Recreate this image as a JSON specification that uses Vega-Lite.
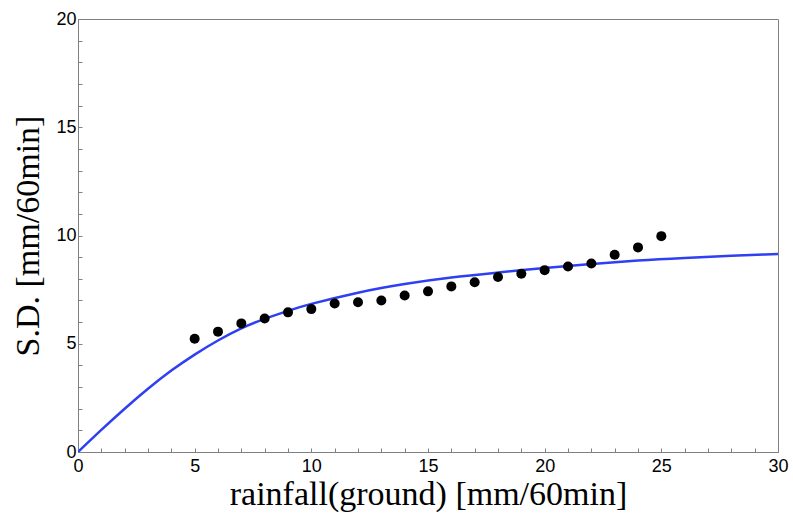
{
  "$schema": "https://vega.github.io/schema/vega-lite/v6.json",
  "autosize": "none",
  "padding": {"left": 78, "top": 19, "right": 15, "bottom": 71},
  "width": 700,
  "height": 433,
  "background": "white",
  "config": {
    "view": {"stroke": "#808080", "strokeWidth": 1},
    "axis": {
      "domainColor": "#808080",
      "tickColor": "#808080",
      "grid": false,
      "labelFont": "Liberation Sans",
      "labelFontSize": 18,
      "labelColor": "black",
      "titleFont": "Liberation Serif",
      "titleFontWeight": "normal",
      "titleFontSize": 34,
      "titleColor": "black",
      "tickSize": -4,
      "labelOverlap": false
    }
  },
  "datasets": {
    "obs": [
      {"x": 5, "y": 5.23}, {"x": 6, "y": 5.56}, {"x": 7, "y": 5.94}, {"x": 8, "y": 6.17},
      {"x": 9, "y": 6.45}, {"x": 10, "y": 6.6}, {"x": 11, "y": 6.86}, {"x": 12, "y": 6.92},
      {"x": 13, "y": 7.0}, {"x": 14, "y": 7.23}, {"x": 15, "y": 7.42}, {"x": 16, "y": 7.65},
      {"x": 17, "y": 7.84}, {"x": 18, "y": 8.08}, {"x": 19, "y": 8.23}, {"x": 20, "y": 8.4},
      {"x": 21, "y": 8.57}, {"x": 22, "y": 8.71}, {"x": 23, "y": 9.11}, {"x": 24, "y": 9.45},
      {"x": 25, "y": 9.97}
    ],
    "fit": [
      {"x": 0, "y": 0}, {"x": 1, "y": 1.02}, {"x": 2, "y": 2.0}, {"x": 3, "y": 2.92},
      {"x": 4, "y": 3.76}, {"x": 5, "y": 4.5}, {"x": 6, "y": 5.15}, {"x": 7, "y": 5.71},
      {"x": 8, "y": 6.15}, {"x": 9, "y": 6.52}, {"x": 10, "y": 6.84}, {"x": 12, "y": 7.36},
      {"x": 14, "y": 7.76}, {"x": 16, "y": 8.06}, {"x": 18, "y": 8.29}, {"x": 20, "y": 8.5},
      {"x": 22, "y": 8.68}, {"x": 24, "y": 8.84}, {"x": 26, "y": 8.96}, {"x": 28, "y": 9.06},
      {"x": 30, "y": 9.15}
    ]
  },
  "layer": [
    {
      "data": {"name": "fit"},
      "mark": {"type": "line", "color": "#2f3ff2", "strokeWidth": 2.5, "interpolate": "natural", "clip": true},
      "encoding": {
        "x": {
          "field": "x", "type": "quantitative",
          "scale": {"domain": [0, 30], "nice": false, "zero": false},
          "axis": {
            "title": "rainfall(ground) [mm/60min]",
            "values": [0,1,2,3,4,5,6,7,8,9,10,11,12,13,14,15,16,17,18,19,20,21,22,23,24,25,26,27,28,29,30],
            "tickCount": 100,
            "format": "d",
            "labelOpacity": {"condition": {"test": "datum.value % 5 === 0", "value": 1}, "value": 0},
            "labelPadding": 9,
            "titlePadding": 2,
            "labelFlush": false,
            "labelOverlap": false,
            "labelBound": false
          }
        },
        "y": {
          "field": "y", "type": "quantitative",
          "scale": {"domain": [0, 20], "nice": false},
          "axis": {
            "title": "S.D. [mm/60min]",
            "values": [0,1,2,3,4,5,6,7,8,9,10,11,12,13,14,15,16,17,18,19,20],
            "tickCount": 100,
            "format": "d",
            "labelOpacity": {"condition": {"test": "datum.value % 5 === 0", "value": 1}, "value": 0},
            "labelPadding": 6,
            "titlePadding": 10,
            "labelFlush": false,
            "labelOverlap": false,
            "labelBound": false
          }
        }
      }
    },
    {
      "data": {"name": "obs"},
      "mark": {"type": "point", "filled": true, "color": "black", "opacity": 1, "size": 100},
      "encoding": {
        "x": {"field": "x", "type": "quantitative"},
        "y": {"field": "y", "type": "quantitative"}
      }
    }
  ]
}
